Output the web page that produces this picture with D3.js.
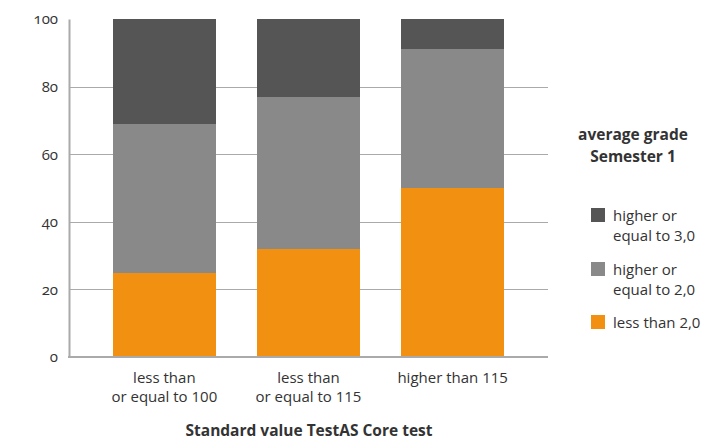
<!DOCTYPE html>
<html>
<head>
<meta charset="utf-8">
<script src="https://cdn.jsdelivr.net/npm/d3@7"></script>
<style>
  body { margin: 0; background: #fff; }
  text { font-family: "Open Sans", Lato, sans-serif; fill: #333; }
</style>
</head>
<body>
<svg width="709" height="440"></svg>
<script>
const width = 709
const height = 440

// data
const categories = [['less than', 'or equal to 100'], ['less than', 'or equal to 115'], ['higher than 115']]
const lessThan20 = [25, 32, 50]
const between20and30 = [44, 45, 41]
const atLeast30 = [31, 23, 9]
const seriesNames = ['less than 2,0', 'higher or equal to 2,0', 'higher or equal to 3,0']
const seriesColors = ['#f29111', '#898989', '#555555']
const yTicks = [0, 20, 40, 60, 80, 100]

const margin = { left: 69, top: 19, right: 161, bottom: 83 }

const svg = d3.select('svg')

const x = d3.scaleBand()
    .domain(d3.range(categories.length))
    .range([margin.left, width - margin.right])
    .paddingInner(0.287)
    .paddingOuter(0.305)

const y = d3.scaleLinear()
    .domain([0, 100])
    .range([height - margin.bottom, margin.top])

// grid
svg.append('g')
    .selectAll('line')
    .data(yTicks.filter(d => d > 0 && d < 100))
    .join('line')
    .attr('x1', margin.left)
    .attr('x2', width - margin.right)
    .attr('y1', d => Math.round(y(d)) + 0.5)
    .attr('y2', d => Math.round(y(d)) + 0.5)
    .attr('stroke', '#aaaaaa')
    .attr('stroke-width', 1)

const table = categories.map((c, i) => ({
    i: i,
    v0: lessThan20[i],
    v1: between20and30[i],
    v2: atLeast30[i]
}))
const stack = d3.stack().keys(['v0', 'v1', 'v2'])(table)

svg.append('g')
    .attr('shape-rendering', 'crispEdges')
    .selectAll('g')
    .data(stack)
    .join('g')
    .attr('fill', (d, k) => seriesColors[k])
    .selectAll('rect')
    .data(d => d)
    .join('rect')
    .attr('x', d => x(d.data.i))
    .attr('width', x.bandwidth())
    .attr('y', d => y(d[1]))
    .attr('height', d => y(d[0]) - y(d[1]))

// axes
const yAxis = svg.append('g')
    .attr('transform', `translate(${margin.left},0)`)
    .call(d3.axisLeft(y).tickValues(yTicks).tickSize(0).tickPadding(11))
yAxis.select('.domain').attr('stroke', '#aaaaaa').attr('stroke-width', 2)
yAxis.selectAll('text')
    .style('font-size', '15px')
    .style('font-family', '"Open Sans", sans-serif')
    .style('font-variant-numeric', 'oldstyle-nums')
    .attr('fill', '#333')

svg.append('line')
    .attr('x1', margin.left - 1)
    .attr('x2', width - margin.right)
    .attr('y1', y(0))
    .attr('y2', y(0))
    .attr('stroke', '#aaaaaa')
    .attr('stroke-width', 2)

const xLabels = svg.append('g')
    .selectAll('text')
    .data(categories)
    .join('text')
    .attr('text-anchor', 'middle')
    .attr('x', (d, i) => x(i) + x.bandwidth() / 2)
    .attr('y', y(0) + 26)
    .style('font-size', '15px')
xLabels.selectAll('tspan')
    .data(d => d)
    .join('tspan')
    .attr('x', function() { return d3.select(this.parentNode).attr('x') })
    .attr('dy', (d, j) => j == 0 ? 0 : 19)
    .text(d => d)

svg.append('text')
    .attr('x', 309)
    .attr('y', 436)
    .attr('text-anchor', 'middle')
    .style('font-size', '15.5px')
    .style('font-weight', 'bold')
    .attr('fill', '#222')
    .text('Standard value TestAS Core test')

// legend
const legend = svg.append('g')
svg.append('text')
    .attr('x', 633)
    .attr('y', 140)
    .attr('text-anchor', 'middle')
    .style('font-size', '15.5px')
    .style('font-weight', 'bold')
    .attr('fill', '#222')
    .selectAll('tspan')
    .data(['average grade', 'Semester 1'])
    .join('tspan')
    .attr('x', 633)
    .attr('dy', (d, j) => j == 0 ? 0 : 22)
    .text(d => d)

const legendItems = [
    { name: ['higher or', 'equal to 3,0'], k: 2, y: 208 },
    { name: ['higher or', 'equal to 2,0'], k: 1, y: 262 },
    { name: ['less than 2,0'], k: 0, y: 315 }
]
const li = legend.selectAll('g')
    .data(legendItems)
    .join('g')
    .attr('transform', d => `translate(591,${d.y})`)
li.append('rect')
    .attr('width', 14)
    .attr('height', 14)
    .attr('fill', d => seriesColors[d.k])
li.append('text')
    .attr('x', 22)
    .attr('y', 13)
    .style('font-size', '15px')
    .selectAll('tspan')
    .data(d => d.name)
    .join('tspan')
    .attr('x', 22)
    .attr('dy', (d, j) => j == 0 ? 0 : 20)
    .text(d => d)
</script>
</body>
</html>
